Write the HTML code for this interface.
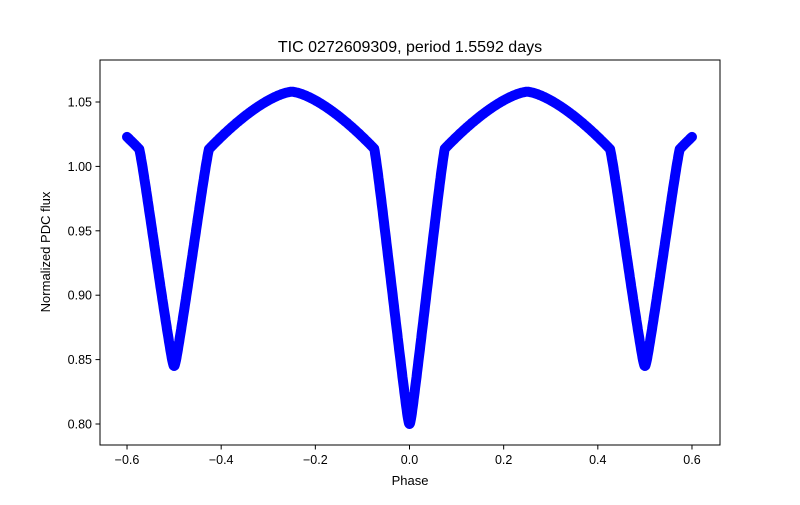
<!DOCTYPE html>
<html><head><style>
body{margin:0;background:#fff}
svg text{font-family:"Liberation Sans",sans-serif;fill:#000}
</style></head><body>
<svg id="s" width="800" height="500" viewBox="0 0 800 500" xmlns="http://www.w3.org/2000/svg">
<rect width="800" height="500" fill="#fff"/>
<path id="c" fill="none" stroke="#0000ff" stroke-width="10" stroke-linejoin="round" stroke-linecap="round"/>
<rect x="100" y="60" width="620" height="385" fill="none" stroke="#000" stroke-width="1"/>
<g id="ticks" stroke="#000" stroke-width="1"></g>
<g id="lbl" font-size="12.5"></g>
<text x="410" y="52" font-size="16" text-anchor="middle">TIC 0272609309, period 1.5592 days</text>
<text x="410" y="485" font-size="13" text-anchor="middle">Phase</text>
<text x="50" y="252" font-size="13" text-anchor="middle" transform="rotate(-90 50 252)">Normalized PDC flux</text>
</svg>
<script>
function X(p){return 409.5+p*470.8}
function Y(f){return 166.4-(f-1)*1288}
function base(p){var a=Math.abs(p)%0.5;var dd=Math.abs(a-0.25);
 return 1.058-0.045*Math.pow(dd/0.177,1.5);}
function ecl(a,w,d){if(a>=w)return 0;var u=a/w;
 var e=0.0015;var r=Math.sqrt(u*u+e);return d*Math.pow(Math.max(0,1-r),1.15)/Math.pow(1-Math.sqrt(e),1.15);}
function F(p){
 var a=Math.abs(p);var f=base(p);
 f-=ecl(a,0.075,f-0.8);
 var s=Math.abs(a-0.5);
 f-=ecl(s,0.074,f-0.845);
 return f;
}
var d="";
for(var i=0;i<=1200;i++){var p=-0.6+i*0.001;var f=F(p);
 d+=(i?"L":"M")+X(p).toFixed(1)+" "+Y(f).toFixed(1);}
document.getElementById("c").setAttribute("d",d);
var t=document.getElementById("ticks"),l=document.getElementById("lbl"),h="",g="";
[-0.6,-0.4,-0.2,0,0.2,0.4,0.6].forEach(function(v){var x=X(v);
 h+='<line x1="'+x+'" y1="445" x2="'+x+'" y2="449.5"/>';
 g+='<text x="'+x+'" y="464" text-anchor="middle">'+(v<0?'\u2212':'')+Math.abs(v).toFixed(1)+'</text>';});
[0.80,0.85,0.90,0.95,1.00,1.05].forEach(function(v){var y=Y(v);
 h+='<line x1="95.5" y1="'+y+'" x2="100" y2="'+y+'"/>';
 g+='<text x="92" y="'+(y+4.5)+'" text-anchor="end">'+v.toFixed(2)+'</text>';});
t.innerHTML=h;l.innerHTML=g;
</script>
</body></html>
